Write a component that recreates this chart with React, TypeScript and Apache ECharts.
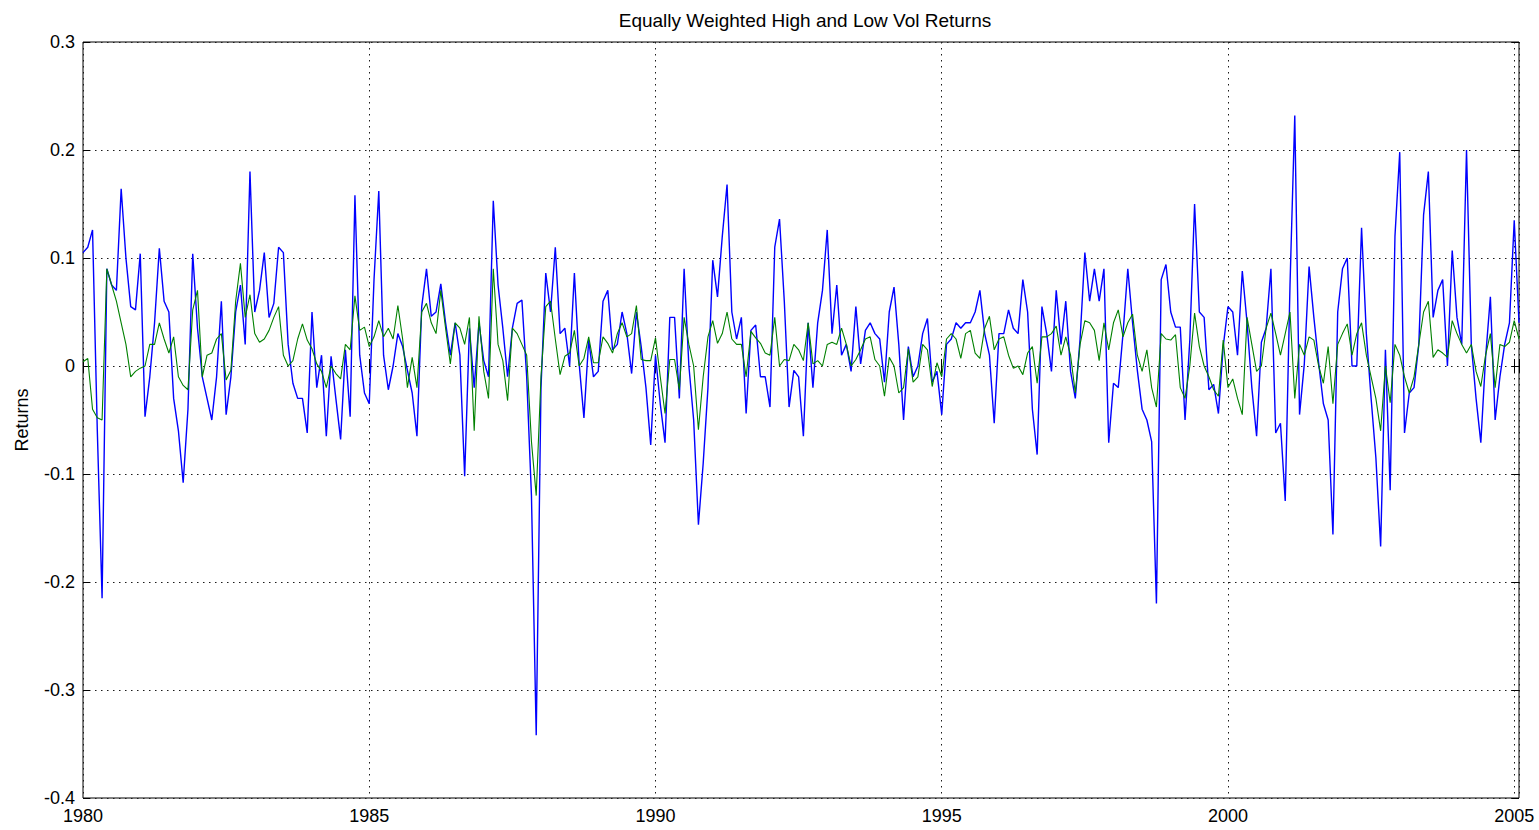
import React, { useEffect, useRef } from "react";
import * as echarts from "echarts";

// Monthly returns, January 1980 onwards (one value per month)
const START_YEAR = 1980;

const highVolReturns: number[] = [
  0.105, 0.11, 0.126, -0.06, -0.215, 0.09, 0.075, 0.07, 0.164, 0.1, 0.055, 0.052,
  0.104, -0.047, -0.01, 0.04, 0.109, 0.06, 0.05, -0.03, -0.06, -0.108, -0.04, 0.104,
  0.035, -0.01, -0.03, -0.05, -0.01, 0.06, -0.045, -0.01, 0.05, 0.075, 0.02, 0.18,
  0.05, 0.07, 0.105, 0.045, 0.058, 0.11, 0.105, 0.02, -0.016, -0.03, -0.03, -0.062,
  0.05, -0.02, 0.01, -0.065, 0.009, -0.03, -0.068, 0.015, -0.047, 0.158, 0.01, -0.025,
  -0.035, 0.08, 0.162, 0.01, -0.022, 0.0, 0.03, 0.018, -0.004, -0.025, -0.065, 0.055,
  0.09, 0.046, 0.05, 0.076, 0.04, 0.01, 0.04, 0.01, -0.102, 0.035, -0.02, 0.04,
  0.005, -0.01, 0.153, 0.075, 0.035, -0.01, 0.035, 0.058, 0.061, -0.01, -0.12, -0.342,
  -0.02, 0.086, 0.05, 0.11, 0.03, 0.035, 0.0, 0.086, 0.002, -0.048, 0.024, -0.01,
  -0.005, 0.06, 0.07, 0.015, 0.02, 0.05, 0.03, -0.007, 0.05, 0.018, -0.02, -0.073,
  0.01, -0.035, -0.071, 0.045, 0.045, -0.03, 0.09, 0.0, -0.05, -0.147, -0.09, -0.02,
  0.098, 0.064, 0.12, 0.168, 0.05, 0.025, 0.045, -0.044, 0.033, 0.038, -0.01, -0.01,
  -0.038, 0.11, 0.136, 0.06, -0.038, -0.004, -0.01, -0.065, 0.04, -0.02, 0.04, 0.07,
  0.126, 0.03, 0.075, 0.01, 0.02, -0.005, 0.055, 0.002, 0.033, 0.04, 0.03, 0.025,
  -0.015, 0.05, 0.073, 0.02, -0.05, 0.018, -0.01, 0.0, 0.03, 0.044, -0.015, -0.005,
  -0.045, 0.02, 0.025, 0.04, 0.035, 0.04, 0.04, 0.05, 0.07, 0.03, 0.01, -0.053,
  0.03, 0.03, 0.052, 0.035, 0.03, 0.08, 0.05, -0.04, -0.082, 0.055, 0.03, -0.005,
  0.07, 0.02, 0.06, -0.005, -0.03, 0.025, 0.105, 0.06, 0.09, 0.06, 0.09, -0.071,
  -0.016, -0.02, 0.03, 0.09, 0.04, -0.004, -0.04, -0.05, -0.07, -0.22, 0.08, 0.094,
  0.05, 0.036, 0.036, -0.05, 0.024, 0.15, 0.05, 0.045, -0.022, -0.017, -0.044, 0.018,
  0.055, 0.05, 0.01, 0.088, 0.04, -0.02, -0.065, 0.022, 0.035, 0.09, -0.062, -0.053,
  -0.125, 0.075, 0.232, -0.045, 0.002, 0.092, 0.045, 0.003, -0.035, -0.05, -0.156, 0.05,
  0.09, 0.1, 0.0, 0.0, 0.128, 0.03, -0.03, -0.085, -0.167, 0.015, -0.115, 0.12,
  0.198, -0.062, -0.025, -0.02, 0.02, 0.14, 0.18, 0.045, 0.07, 0.08, 0.0, 0.107,
  0.045, 0.02, 0.2, 0.02, -0.03, -0.071, 0.008, 0.064, -0.05, -0.01, 0.02, 0.04,
  0.135, 0.04,
];

const lowVolReturns: number[] = [
  0.004, 0.007, -0.04, -0.048, -0.05, 0.09, 0.075, 0.06, 0.04, 0.02, -0.01, -0.005,
  -0.002, 0.0, 0.02, 0.02, 0.04, 0.025, 0.012, 0.027, -0.01, -0.018, -0.022, 0.052,
  0.07, -0.01, 0.01, 0.012, 0.025, 0.03, -0.013, -0.004, 0.06, 0.095, 0.045, 0.066,
  0.03, 0.022, 0.025, 0.033, 0.045, 0.055, 0.01, 0.0, 0.005, 0.025, 0.039, 0.024,
  0.016, 0.002, -0.005, -0.02, 0.0, -0.007, -0.012, 0.02, 0.015, 0.065, 0.033, 0.036,
  0.018, 0.027, 0.042, 0.027, 0.035, 0.025, 0.056, 0.025, -0.02, 0.008, -0.02, 0.05,
  0.058, 0.04, 0.03, 0.07, 0.035, 0.002, 0.04, 0.035, 0.02, 0.045, -0.06, 0.046,
  -0.005, -0.03, 0.09, 0.02, 0.005, -0.032, 0.035, 0.03, 0.02, 0.01, -0.07, -0.12,
  -0.01, 0.055, 0.06, 0.025, -0.008, 0.009, 0.012, 0.033, 0.0, 0.007, 0.027, 0.003,
  0.003, 0.027, 0.021, 0.012, 0.03, 0.04, 0.027, 0.03, 0.056, 0.006, 0.005, 0.005,
  0.026, -0.01, -0.044, 0.006, 0.006, -0.022, 0.045, 0.02, 0.0, -0.059, -0.01, 0.027,
  0.042, 0.021, 0.03, 0.05, 0.025, 0.02, 0.02, -0.01, 0.032, 0.026, 0.021, 0.012,
  0.01, 0.045, 0.0, 0.006, 0.005, 0.02, 0.015, 0.005, 0.04, 0.002, 0.005, 0.0,
  0.02, 0.022, 0.02, 0.035, 0.02, 0.0, 0.006, 0.015, 0.025, 0.027, 0.006, 0.0,
  -0.028, 0.008, 0.0, -0.025, -0.02, 0.016, -0.015, -0.01, 0.02, 0.015, -0.019, 0.003,
  -0.01, 0.025, 0.03, 0.025, 0.007, 0.03, 0.033, 0.012, 0.007, 0.035, 0.046, 0.015,
  0.025, 0.027, 0.01, -0.002, 0.0, -0.008, 0.012, 0.018, -0.016, 0.027, 0.027, 0.03,
  0.037, 0.01, 0.027, 0.01, -0.025, 0.02, 0.042, 0.04, 0.033, 0.005, 0.04, 0.015,
  0.04, 0.052, 0.027, 0.04, 0.048, 0.01, -0.005, 0.015, -0.02, -0.038, 0.03, 0.025,
  0.024, 0.029, -0.02, -0.03, 0.0, 0.049, 0.018, 0.0, -0.01, -0.022, -0.028, 0.024,
  -0.02, -0.012, -0.03, -0.045, 0.045, 0.02, -0.005, 0.0, 0.035, 0.049, 0.03, 0.01,
  0.03, 0.05, -0.03, 0.02, 0.01, 0.027, 0.024, 0.0, -0.016, 0.018, -0.035, 0.02,
  0.03, 0.039, 0.01, 0.03, 0.04, 0.01, -0.01, -0.03, -0.06, 0.0, -0.034, 0.02,
  0.01, -0.01, -0.025, -0.01, 0.02, 0.05, 0.06, 0.008, 0.015, 0.012, 0.008, 0.042,
  0.03, 0.02, 0.012, 0.02, -0.005, -0.019, 0.01, 0.03, -0.02, 0.02, 0.018, 0.022,
  0.042, 0.025,
];

const TITLE = "Equally Weighted High and Low Vol Returns";
const Y_NAME = "Returns";
const Y_MIN = -0.4;
const Y_MAX = 0.3;
const Y_STEP = 0.1;
const X_STEP = 5;

const FONT = "'Liberation Sans', Arial, sans-serif";

const toPoints = (values: number[]) =>
  values.map((v, i) => [START_YEAR + i / 12, v]);

export default function App() {
  const ref = useRef<HTMLDivElement>(null);

  useEffect(() => {
    if (!ref.current) return;
    const chart = echarts.init(ref.current, undefined, { renderer: "svg" });
    const xMax = START_YEAR + (highVolReturns.length - 1) / 12;

    const grid = { left: 83, right: 20, top: 42, bottom: 32, show: true, borderColor: "#000", borderWidth: 1 };
    const dotted = { color: "#1a1a1a", width: 1, type: [1.5, 4.5] as number[] };
    const tick = { show: true, inside: true, length: 7, lineStyle: { color: "#000", width: 1 } };

    const xFmt = (v: number) => (Math.abs(v % X_STEP) < 1e-9 ? String(Math.round(v)) : "");
    const yFmt = (v: number) => {
      const r = Math.round(v * 10) / 10;
      return r === 0 ? "0" : String(r);
    };

    chart.setOption({
      animation: false,
      backgroundColor: "#fff",
      title: {
        text: TITLE,
        left: 800,
        top: 6,
        textAlign: "center",
        textStyle: { fontFamily: FONT, fontSize: 19, fontWeight: "normal", color: "#000" },
      },
      grid,
      xAxis: [
        {
          type: "value",
          min: START_YEAR,
          max: xMax,
          interval: X_STEP,
          axisLine: { show: false },
          axisTick: tick,
          axisLabel: { formatter: xFmt, color: "#000", fontFamily: FONT, fontSize: 18, margin: 9 },
          splitLine: { show: true, lineStyle: dotted },
        },
        {
          type: "value",
          position: "top",
          min: START_YEAR,
          max: xMax,
          interval: X_STEP,
          axisLine: { show: false },
          axisTick: tick,
          axisLabel: { show: false },
          splitLine: { show: false },
        },
      ],
      yAxis: [
        {
          type: "value",
          min: Y_MIN,
          max: Y_MAX,
          interval: Y_STEP,
          name: Y_NAME,
          nameLocation: "middle",
          nameGap: 52,
          nameTextStyle: { fontFamily: FONT, fontSize: 18, color: "#000" },
          axisLine: { show: false },
          axisTick: tick,
          axisLabel: { formatter: yFmt, color: "#000", fontFamily: FONT, fontSize: 18, margin: 8 },
          splitLine: { show: true, lineStyle: dotted },
        },
        {
          type: "value",
          position: "right",
          min: Y_MIN,
          max: Y_MAX,
          interval: Y_STEP,
          axisLine: { show: false },
          axisTick: tick,
          axisLabel: { show: false },
          splitLine: { show: false },
        },
      ],
      series: [
        {
          name: "High Vol",
          type: "line",
          data: toPoints(highVolReturns),
          showSymbol: false,
          symbol: "none",
          lineStyle: { color: "#0000ff", width: 1.4 },
          z: 2,
        },
        {
          name: "Low Vol",
          type: "line",
          data: toPoints(lowVolReturns),
          showSymbol: false,
          symbol: "none",
          lineStyle: { color: "#008000", width: 1.1 },
          z: 3,
        },
      ],
    });

    return () => chart.dispose();
  }, []);

  return (
    <div
      ref={ref}
      style={{ position: "fixed", left: 0, top: 0, width: 1539, height: 830, background: "#fff" }}
    />
  );
}
